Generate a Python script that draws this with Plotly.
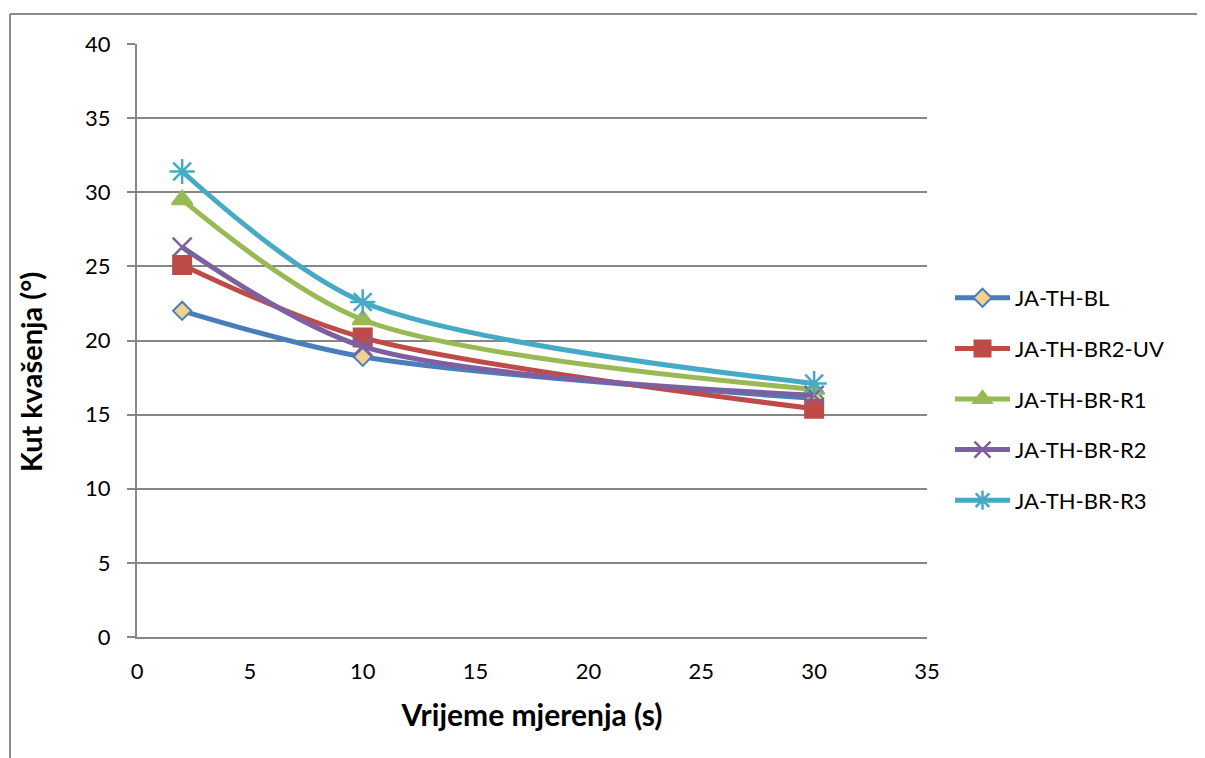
import plotly.graph_objects as go

x_vals = [2, 10, 30]
series_names = ["JA-TH-BL", "JA-TH-BR2-UV", "JA-TH-BR-R1", "JA-TH-BR-R2", "JA-TH-BR-R3"]
bl = [22.0, 18.9, 16.1]
br2_uv = [25.1, 20.2, 15.4]
r1 = [29.5, 21.4, 16.7]
r2 = [26.3, 19.6, 16.3]
r3 = [31.4, 22.6, 17.1]

x_ticks = [0, 5, 10, 15, 20, 25, 30, 35]
y_ticks = [0, 5, 10, 15, 20, 25, 30, 35, 40]
x_title = "Vrijeme mjerenja (s)"
y_title = "Kut kvašenja (°)"

colors = ["#4A7EBB", "#BE4B48", "#98B954", "#7D60A0", "#46AAC5"]
symbols = ["diamond", "square", "triangle-up", "x-thin-open", "asterisk-open"]
fills = ["#F2D08E", "#BE4B48", "#98B954", "#7D60A0", "#46AAC5"]
sizes = [14, 18, 18, 19, 21]

FONT = "Lato, 'Open Sans', sans-serif"

fig = go.Figure()
for i, (name, ys) in enumerate(zip(series_names, [bl, br2_uv, r1, r2, r3])):
    fig.add_trace(go.Scatter(
        x=x_vals, y=ys, name=name, mode="lines+markers",
        line=dict(color=colors[i], width=5, shape="spline", smoothing=0.85),
        marker=dict(symbol=symbols[i], size=sizes[i], color=fills[i],
                    line=dict(color=colors[i], width=2.5 if i >= 3 else 2)),
        legendgroup=name,
    ))

# page body has an 8px margin; figure coordinates = reference pixels - 8
OFF = 8
W, H = 1205 - OFF, 758 - OFF
L, T = 137 - OFF, 44 - OFF
R = W - (927 - OFF)
B = H - (637 - OFF)
pw, ph = W - L - R, H - T - B

def px_to_paper_x(px):
    return (px - OFF - L) / pw

def px_to_paper_y(py):
    return (H - B - (py - OFF)) / ph

fig.update_layout(
    width=W, height=H,
    margin=dict(l=L, r=R, t=T, b=B),
    paper_bgcolor="white", plot_bgcolor="white",
    font=dict(family=FONT, size=22, color="black"),
    showlegend=True,
    legend=dict(x=px_to_paper_x(950), y=px_to_paper_y(277), xanchor="left", yanchor="top",
                font=dict(size=22, family=FONT, color="black"), tracegroupgap=19,
                itemwidth=55, bgcolor="rgba(0,0,0,0)"),
    xaxis=dict(range=[0, 35], tickvals=x_ticks, showgrid=False, zeroline=False,
               showline=True, linecolor="#868686", linewidth=2,
               ticks="", tickfont=dict(size=22, family=FONT, color="black"),
               ticklabelstandoff=14,
               title=dict(text="<b>" + x_title + "</b>", font=dict(size=30, family=FONT, color="black"), standoff=22)),
    yaxis=dict(range=[0, 40], tickvals=y_ticks, showgrid=True, gridcolor="#868686", gridwidth=1.5,
               zeroline=False, showline=True, linecolor="#868686", linewidth=2,
               ticks="outside", ticklen=8, tickcolor="#868686", tickwidth=2,
               tickfont=dict(size=22, family=FONT, color="black"),
               ticklabelstandoff=12),
)

fig.add_annotation(text="<b>" + y_title + "</b>", xref="paper", yref="paper",
                   x=px_to_paper_x(30), y=px_to_paper_y(372), textangle=-90,
                   xanchor="center", yanchor="middle", showarrow=False,
                   font=dict(size=29, family=FONT, color="black"))

# outer chart frame (cropped on right/bottom in reference)
fig.add_shape(type="line", xref="paper", yref="paper",
              x0=px_to_paper_x(10), x1=px_to_paper_x(10), y0=px_to_paper_y(14), y1=px_to_paper_y(770),
              line=dict(color="#8C8C8C", width=2))
fig.add_shape(type="line", xref="paper", yref="paper",
              x0=px_to_paper_x(10), x1=px_to_paper_x(1220), y0=px_to_paper_y(14), y1=px_to_paper_y(14),
              line=dict(color="#8C8C8C", width=2))

fig.write_html("out.html")
